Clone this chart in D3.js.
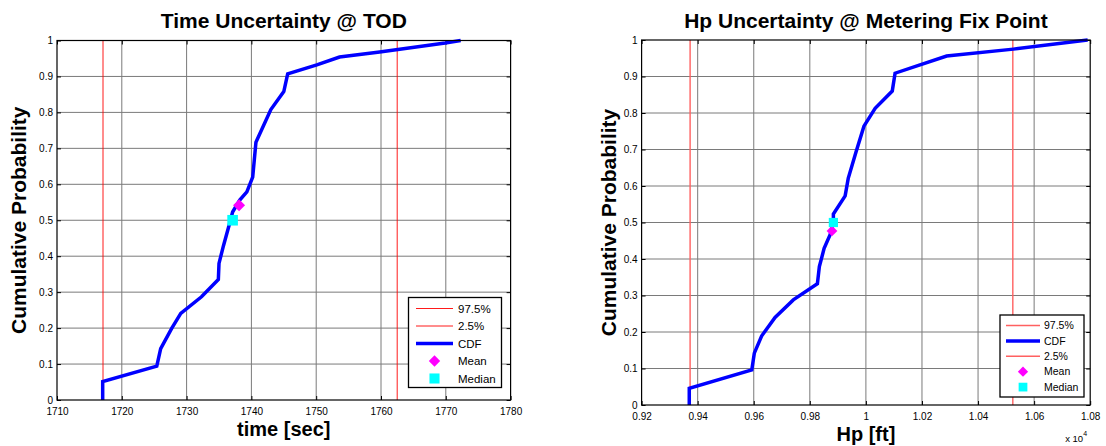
<!DOCTYPE html>
<html>
<head>
<meta charset="utf-8">
<script src="https://cdn.jsdelivr.net/npm/d3@7"></script>
<style>
  body { margin: 0; background: #fff; }
  svg { display: block; }
  text { font-family: "Liberation Sans", Arial, Helvetica, sans-serif; fill: #000; }
</style>
</head>
<body>
<svg id="chart" width="1106" height="446"></svg>
<script>
// Cumulative probability ticks shared by both panels
const probTicks = [0, 0.1, 0.2, 0.3, 0.4, 0.5, 0.6, 0.7, 0.8, 0.9, 1];

// Time at top of descent (seconds)
const timeTicks = [1710, 1720, 1730, 1740, 1750, 1760, 1770, 1780];
const timeCdfSec = [1717.05, 1717.05, 1725.4, 1726.0, 1727.7, 1729.1, 1732.3, 1734.9, 1735.0, 1735.7,
  1736.7, 1737.1, 1738.2, 1739.3, 1740.2, 1740.7, 1743.0, 1745.0, 1745.6, 1750.1, 1753.6, 1759.8, 1769.9, 1772.3];
const timeCdfProb = [0, 0.051, 0.094, 0.143, 0.199, 0.241, 0.287, 0.335, 0.38, 0.43,
  0.495, 0.523, 0.556, 0.579, 0.62, 0.717, 0.808, 0.858, 0.907, 0.932, 0.954, 0.968, 0.993, 1.0];
const timeP975 = 1762.5;
const timeP025 = 1717.1;
const timeMean = [1738.1, 0.542];
const timeMedian = [1737.1, 0.5];
const timeLegend = ["97.5%", "2.5%", "CDF", "Mean", "Median"];

// Pressure altitude at the metering fix (feet)
const hpTicks = [9200, 9400, 9600, 9800, 10000, 10200, 10400, 10600, 10800];
const hpCdfFt = [9370, 9370, 9593, 9602, 9628, 9676, 9741, 9827, 9834, 9851, 9872, 9884,
  9884, 9926, 9937, 9965, 9993, 10033, 10094, 10104, 10193, 10288, 10526, 10791];
const hpCdfProb = [0, 0.046, 0.096, 0.142, 0.189, 0.24, 0.288, 0.332, 0.379, 0.429, 0.466, 0.5,
  0.523, 0.573, 0.621, 0.694, 0.764, 0.813, 0.86, 0.909, 0.932, 0.956, 0.975, 1.0];
const hpP975 = 10524;
const hpP025 = 9373;
const hpMean = [9879, 0.477];
const hpMedian = [9884, 0.5];
const hpLegend = ["97.5%", "CDF", "2.5%", "Mean", "Median"];

const svg = d3.select("#chart");

function drawPanel(cfg) {
  const x = d3.scaleLinear().domain(d3.extent(cfg.xTicks)).range([cfg.left, cfg.right]);
  const y = d3.scaleLinear().domain([0, 1]).range([cfg.bottom, cfg.top]);
  const g = svg.append("g");

  // grid
  g.append("g").selectAll("line").data(cfg.xTicks.slice(1, -1)).join("line")
    .attr("x1", d => x(d)).attr("x2", d => x(d))
    .attr("y1", cfg.top).attr("y2", cfg.bottom)
    .attr("stroke", "#7a7a7a").attr("stroke-width", 1);
  g.append("g").selectAll("line").data(probTicks.slice(1, -1)).join("line")
    .attr("x1", cfg.left).attr("x2", cfg.right)
    .attr("y1", d => y(d)).attr("y2", d => y(d))
    .attr("stroke", "#7a7a7a").attr("stroke-width", 1);

  // axes with inward ticks on all four sides
  const tl = 4;
  const bottomAxis = d3.axisBottom(x).tickValues(cfg.xTicks).tickSize(-tl).tickFormat(cfg.xFormat);
  const topAxis = d3.axisTop(x).tickValues(cfg.xTicks).tickSize(-tl).tickFormat("");
  const leftAxis = d3.axisLeft(y).tickValues(probTicks).tickSize(-tl).tickFormat(d => String(d));
  const rightAxis = d3.axisRight(y).tickValues(probTicks).tickSize(-tl).tickFormat("");

  const styleAxis = sel => {
    sel.select(".domain").remove();
    sel.selectAll(".tick line").attr("stroke", "#000");
    sel.selectAll("text").style("font-size", "10px").attr("fill", "#000");
  };
  g.append("g").attr("transform", `translate(0,${cfg.bottom})`).call(bottomAxis).call(styleAxis)
    .selectAll("text").attr("y", 7.5).attr("dy", "0.71em");
  g.append("g").attr("transform", `translate(0,${cfg.top})`).call(topAxis).call(styleAxis);
  g.append("g").attr("transform", `translate(${cfg.left},0)`).call(leftAxis).call(styleAxis)
    .selectAll("text").attr("x", -4);
  g.append("g").attr("transform", `translate(${cfg.right},0)`).call(rightAxis).call(styleAxis);

  // percentile lines
  [cfg.p975, cfg.p025].forEach(v => {
    g.append("line").attr("x1", x(v)).attr("x2", x(v))
      .attr("y1", cfg.top).attr("y2", cfg.bottom)
      .attr("stroke", cfg.pctColor).attr("stroke-width", cfg.pctWidth);
  });

  // CDF curve
  const pts = cfg.cdfX.map((v, i) => [v, cfg.cdfP[i]]);
  g.append("path").datum(pts)
    .attr("d", d3.line().x(d => x(d[0])).y(d => y(d[1])))
    .attr("fill", "none").attr("stroke", "#0000ff").attr("stroke-width", 3.5)
    .attr("stroke-linejoin", "miter");

  // mean and median markers
  g.append("path")
    .attr("transform", `translate(${x(cfg.mean[0])},${y(cfg.mean[1])})`)
    .attr("d", `M0,${-cfg.diamond}L${cfg.diamond},0L0,${cfg.diamond}L${-cfg.diamond},0Z`)
    .attr("fill", "#ff00ff");
  g.append("rect")
    .attr("x", x(cfg.median[0]) - cfg.square).attr("y", y(cfg.median[1]) - cfg.square)
    .attr("width", cfg.square * 2).attr("height", cfg.square * 2)
    .attr("fill", "#00ffff");

  // axes box
  g.append("rect").attr("x", cfg.left).attr("y", cfg.top)
    .attr("width", cfg.right - cfg.left).attr("height", cfg.bottom - cfg.top)
    .attr("fill", "none").attr("stroke", "#000").attr("stroke-width", 1.2);

  // titles
  g.append("text").attr("x", (cfg.left + cfg.right) / 2).attr("y", 28)
    .attr("text-anchor", "middle").style("font-size", "21px").style("font-weight", "bold")
    .text(cfg.title);
  g.append("text").attr("x", (cfg.left + cfg.right) / 2).attr("y", cfg.bottom + 36)
    .attr("text-anchor", "middle").style("font-size", "20px").style("font-weight", "bold")
    .text(cfg.xLabel);
  g.append("text")
    .attr("transform", `translate(${cfg.yLabelX},${(cfg.top + cfg.bottom) / 2}) rotate(-90)`)
    .attr("text-anchor", "middle").style("font-size", "21px").style("font-weight", "bold")
    .text("Cumulative Probability");

  if (cfg.exponent) {
    const ex = g.append("text").attr("x", cfg.right - 25).attr("y", cfg.bottom + 37)
      .style("font-size", "9.5px");
    ex.append("tspan").text("x 10");
    ex.append("tspan").attr("dy", -6).style("font-size", "7px").text(cfg.exponent);
  }

  // legend
  const L = cfg.legend;
  const lg = g.append("g");
  lg.append("rect").attr("x", L.x).attr("y", L.y).attr("width", L.w).attr("height", L.h)
    .attr("fill", "#fff").attr("stroke", "#000").attr("stroke-width", 1.3);
  cfg.legendItems.forEach((name, i) => {
    const cy = L.y + L.first + i * L.step;
    if (name === "CDF") {
      lg.append("line").attr("x1", L.lx1).attr("x2", L.lx2).attr("y1", cy).attr("y2", cy)
        .attr("stroke", "#0000ff").attr("stroke-width", 3.5);
    } else if (name === "Mean") {
      const mx = (L.lx1 + L.lx2) / 2, r = cfg.diamond * 0.95;
      lg.append("path").attr("d", `M${mx},${cy - r}L${mx + r},${cy}L${mx},${cy + r}L${mx - r},${cy}Z`)
        .attr("fill", "#ff00ff");
    } else if (name === "Median") {
      const mx = (L.lx1 + L.lx2) / 2, r = cfg.square * 0.95;
      lg.append("rect").attr("x", mx - r).attr("y", cy - r).attr("width", 2 * r).attr("height", 2 * r)
        .attr("fill", "#00ffff");
    } else {
      lg.append("line").attr("x1", L.lx1).attr("x2", L.lx2).attr("y1", cy).attr("y2", cy)
        .attr("stroke", cfg.pctColor).attr("stroke-width", cfg.pctWidth);
    }
    lg.append("text").attr("x", L.tx).attr("y", cy).attr("dy", "0.36em")
      .style("font-size", L.font).text(name);
  });
}

drawPanel({
  title: "Time Uncertainty @ TOD", xLabel: "time [sec]",
  xTicks: timeTicks, xFormat: d => String(d),
  left: 57, right: 510.6, top: 40.5, bottom: 400, yLabelX: 26,
  cdfX: timeCdfSec, cdfP: timeCdfProb, p975: timeP975, p025: timeP025,
  mean: timeMean, median: timeMedian, diamond: 6, square: 5.3,
  pctColor: "#ff0000", pctWidth: 0.9,
  legendItems: timeLegend,
  legend: { x: 408.5, y: 297.5, w: 93, h: 90, first: 11, step: 17.5,
            lx1: 416, lx2: 453, tx: 458, font: "11.5px" }
});

drawPanel({
  title: "Hp Uncertainty @ Metering Fix Point", xLabel: "Hp [ft]",
  xTicks: hpTicks, xFormat: d => String(+(d / 1e4).toFixed(2)), exponent: "4",
  left: 641.6, right: 1090.2, top: 40, bottom: 405, yLabelX: 616,
  cdfX: hpCdfFt, cdfP: hpCdfProb, p975: hpP975, p025: hpP025,
  mean: hpMean, median: hpMedian, diamond: 5.4, square: 4.6,
  pctColor: "#ff6060", pctWidth: 1.4,
  legendItems: hpLegend,
  legend: { x: 1000, y: 315, w: 84, h: 82, first: 10.5, step: 15.4,
            lx1: 1006, lx2: 1040, tx: 1044, font: "10.5px" }
});
</script>
</body>
</html>
